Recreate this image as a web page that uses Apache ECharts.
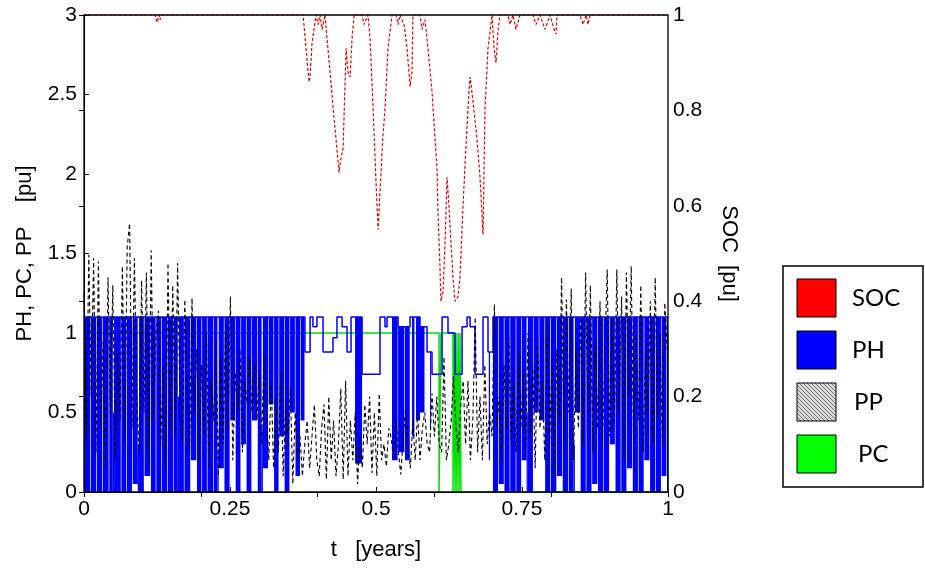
<!DOCTYPE html>
<html>
<head>
<meta charset="utf-8">
<script src="https://cdn.jsdelivr.net/npm/echarts@6/dist/echarts.min.js"></script>
<style>
  html, body { margin: 0; padding: 0; background: #fff; }
  #chart { width: 925px; height: 570px; }
</style>
</head>
<body>
<div id="chart"></div>
<script>
// time is in days of the year, axis labels show years
const DAYS = 365;

// PH envelope of the fast on/off switching: [startDay, endDay, low, high]
const phBands = [
  [0.6, 3.8, 0, 1.1], [4.2, 7.6, 0, 1.1], [8, 11.4, 0, 1.1], [11.8, 15.4, 0, 1.1],
  [15.8, 18, 0, 1.1], [18, 18.8, 0, 0.5], [18.8, 23, 0, 1.1], [23.4, 26.4, 0, 1.1],
  [26.8, 30, 0, 1.1], [30.4, 33.6, 0.05, 1.1], [33.6, 34.4, 0, 0.3], [34.4, 37.4, 0, 1.1],
  [37.8, 41.4, 0.1, 1.1], [41.8, 44.8, 0, 1.1], [45.2, 48.2, 0, 1.1], [48.6, 52, 0, 1.1],
  [52.4, 55.6, 0, 1.1], [56, 58.6, 0, 1.1], [58.6, 59.4, 0, 0.6], [59.4, 62.4, 0, 1.1],
  [62.8, 66.4, 0, 1.1], [66.8, 70.2, 0.2, 1.1], [70.6, 73.4, 0, 1.1], [73.8, 76.8, 0, 1.1],
  [77.2, 80.8, 0, 1.1], [81.2, 83.4, 0, 1.1], [83.4, 84.2, 0, 0.25], [84.2, 87.4, 0.15, 1.1],
  [87.8, 91, 0, 1.1], [91.4, 94.4, 0.45, 1.1], [94.8, 97.8, 0, 1.1], [98.2, 101.2, 0.3, 1.1],
  [101.6, 104.6, 0, 1.1], [105, 108.2, 0.45, 1.1], [108.6, 111, 0, 1.1], [111, 111.8, 0, 0.4],
  [111.8, 115, 0.15, 1.1], [115.4, 118.4, 0.55, 1.1], [118.8, 121.6, 0, 1.1], [122, 125, 0.35, 1.1],
  [125.4, 128.4, 0, 1.1], [128.8, 131.8, 0.5, 1.1], [132.2, 135, 0.1, 1.1], [135.4, 137.8, 0.45, 1.1],
  [169.4, 173.8, 0.18, 1.1], [192.5, 196, 0.2, 1.1], [196.3, 200.2, 0.25, 1.04], [200.6, 203.6, 0.2, 1.04],
  [205, 206.5, 0.35, 1.1], [207.5, 210, 0.45, 1.1], [210, 212.8, 0.5, 1.04], [216.3, 216.9, 0.4, 0.88],
  [253, 253.8, 0.2, 0.88],
  [255.6, 258.8, 0, 1.1], [259.2, 262.4, 0.05, 1.1], [262.8, 266, 0, 1.1], [266.4, 269.8, 0, 1.1],
  [270.2, 273.2, 0, 1.1], [273.6, 276.6, 0.2, 1.1], [276.6, 277.4, 0, 0.5], [277.4, 280.6, 0, 1.1],
  [281, 284.2, 0.5, 1.1], [284.6, 287.8, 0.45, 1.1], [288.2, 291.4, 0, 1.1], [291.8, 295.2, 0, 1.1],
  [295.6, 298.8, 0.1, 1.1], [299.2, 302.6, 0, 1.1], [303, 306, 0, 1.1], [306, 306.8, 0, 0.3],
  [306.8, 310, 0.5, 1.1], [310.4, 313.6, 0, 1.1], [314, 317.2, 0, 1.1], [317.6, 320.8, 0.05, 1.1],
  [321.2, 324.6, 0, 1.1], [325, 328.2, 0, 1.1], [328.6, 331.8, 0.3, 1.1], [332.2, 335.4, 0, 1.1],
  [335.8, 339, 0, 1.1], [339.4, 342.6, 0.15, 1.1], [343, 346.2, 0, 1.1], [346.6, 349.8, 0, 1.1],
  [350.2, 353.4, 0.2, 1.1], [353.8, 357, 0, 1.1], [357.4, 360.6, 0, 1.1], [361, 364, 0.1, 1.1],
  [364.4, 365, 0, 1.1]
];

// PH slow level (step line)
const phStepDay = [0, 138.1, 141.3, 143.1, 145.6, 149.4, 155.6, 158.1, 161.3, 164.4, 166.9, 173.8,
  185, 188.1, 189.4, 196.3, 203.8, 210, 214.4, 217.5, 223.8, 227.5, 231.9, 236.3, 239.4,
  241.3, 244.4, 249.4, 252.5, 255.6, 365];
const phStepVal = [1.1, 0.88, 1.1, 1.04, 1.1, 0.88, 0.97, 1.1, 1.04, 0.88, 1.1, 0.74,
  1.1, 1.04, 1.1, 1.04, 1.1, 1.04, 0.88, 0.74, 1.1, 1.0, 0.74, 1.04, 1.1,
  1.04, 0.74, 1.1, 0.88, 1.1, 1.1];

// PP sampled every 1.5 days
const ppStepDays = 1.5;
const ppVals = [
  1.25, 0.35, 1.49, 0.6, 1.47, 0.25, 1.45, 0.4, 0.95, 0.15,
  1.35, 0.5, 1.3, 0.2, 0.9, 0.45, 1.42, 0.3, 1.54, 1.69,
  0.4, 1.47, 0.6, 0.25, 1.33, 0.5, 1.38, 0.2, 1.52, 0.45,
  1.0, 1.14, 0.3, 0.8, 0.15, 1.44, 0.4, 1.3, 0.35, 1.44,
  0.5, 0.3, 1.21, 0.6, 0.25, 1.22, 0.5, 0.9, 0.2, 0.8,
  0.35, 1.0, 0.15, 0.7, 0.45, 0.95, 0.1, 0.85, 0.3, 1.05,
  0.4, 1.23, 0.2, 0.75, 0.5, 0.9, 0.25, 0.7, 0.55, 0.85,
  0.5, 0.8, 0.45, 0.75, 0.3, 0.85, 0.5, 0.2, 0.7, 0.15,
  0.6, 0.25, 0.75, 0.1, 0.55, 0.3, 0.65, 0.05, 0.5, 0.2,
  0.35, 0.1, 0.3, 0.45, 0.15, 0.35, 0.55, 0.2, 0.1, 0.4,
  0.55, 0.08, 0.6, 0.2, 0.45, 0.1, 0.3, 0.65, 0.08, 0.7,
  0.1, 0.45, 0.2, 0.5, 0.05, 0.35, 0.15, 0.55, 0.3, 0.6,
  0.12, 0.5, 0.1, 0.62, 0.2, 0.3, 0.16, 0.4, 0.34, 0.2,
  0.45, 0.25, 0.11, 0.35, 0.52, 0.3, 0.15, 0.45, 0.2, 0.5,
  0.2, 0.4, 0.5, 0.3, 0.25, 0.62, 0.35, 0.6, 0.3, 0.25,
  0.85, 0.2, 0.3, 0.45, 0.73, 0.4, 0.25, 0.55, 0.7, 0.3,
  0.7, 0.2, 0.45, 1.1, 0.25, 0.6, 0.2, 0.8, 0.3, 0.5,
  0.35, 1.18, 0.4, 0.6, 0.2, 0.8, 0.4, 0.97, 0.3, 0.7,
  0.25, 0.9, 0.4, 0.75, 0.2, 1.0, 0.35, 0.8, 0.15, 0.95,
  0.4, 0.7, 0.2, 1.05, 0.3, 0.85, 0.1, 0.9, 0.45, 1.35,
  0.3, 1.21, 0.5, 1.28, 0.2, 0.9, 0.4, 1.1, 0.3, 1.38,
  0.5, 1.3, 0.25, 0.95, 0.4, 1.2, 0.3, 0.85, 1.4, 0.35,
  1.1, 0.4, 1.4, 0.5, 1.23, 0.2, 1.38, 0.6, 1.42, 0.3,
  1.0, 0.45, 1.3, 0.25, 0.9, 0.5, 1.2, 0.3, 1.35, 0.45,
  1.0, 0.3, 1.19, 0.9
];

// PC (step line)
const pcDay = [0, 221.9, 223.1, 230.6, 231.2, 231.9, 232.5, 233.1, 233.8, 234.4, 235, 235.6, 365];
const pcVal = [1, 0, 1, 0, 1, 0, 1, 0, 1, 0, 1, 0, 1];

// SOC, right axis
const socDay = [0, 44.4, 45.6, 46.9, 47.5, 48.8, 136.9, 138.8, 140.6, 141.3, 142.5, 145, 146.3,
  147.5, 148.8, 150.6, 151.9, 153.8, 155.6, 157.5, 159.4, 160.6, 161.9, 163.1, 163.8, 165,
  166.3, 167.5, 168.8, 173.8, 175, 177.5, 178.8, 180.6, 182.5, 183.8, 185, 186.9, 188.1, 190,
  192.5, 195, 196.3, 197.5, 200, 201.9, 203.8, 205, 205.6, 210, 211.3, 213.1, 215, 217.5,
  219.4, 220.6, 221.3, 222.5, 223.1, 224.4, 225.6, 226.9, 228.1, 229.4, 230.6, 231.9, 233.8,
  235, 236.9, 238.8, 240.6, 241.3, 243.1, 245.6, 247.5, 249.4, 250.6, 252.5, 255, 256.3,
  257.5, 258.8, 260, 265, 266.3, 268.1, 270, 272.5, 280.6, 282.5, 285, 288.1, 291.3, 293.8,
  295, 295.6, 310, 311.9, 313.8, 315, 316.3, 365];
const socVal = [1, 1, 0.985, 1, 0.99, 1, 1, 0.93, 0.86, 0.87, 0.94, 1, 0.98,
  1, 0.97, 1, 0.95, 0.88, 0.81, 0.74, 0.67, 0.7, 0.72, 0.85, 0.93, 0.88,
  0.87, 0.95, 1, 1, 0.98, 1, 0.95, 0.81, 0.65, 0.55, 0.63, 0.75, 0.8, 0.93,
  1, 1, 0.98, 1, 0.98, 0.93, 0.85, 0.88, 1, 1, 0.97, 0.99, 0.93, 0.84,
  0.74, 0.68, 0.58, 0.47, 0.4, 0.42, 0.52, 0.66, 0.6, 0.52, 0.45, 0.4, 0.41,
  0.45, 0.6, 0.73, 0.84, 0.87, 0.82, 0.74, 0.66, 0.54, 0.8, 0.93, 1, 0.93,
  0.9, 0.97, 1, 1, 0.98, 1, 0.97, 1, 1, 0.98, 1, 0.97, 1, 0.97,
  0.96, 1, 1, 0.98, 1, 0.98, 1, 1];

const legendNames = ['SOC', 'PH', 'PP', 'PC'];

const FONT = 'Liberation Sans, Arial, sans-serif';
const zip = (xs, ys) => xs.map((x, i) => [x, ys[i]]);

function hatchPattern() {
  const c = document.createElement('canvas');
  c.width = 4;
  c.height = 4;
  const ctx = c.getContext('2d');
  ctx.fillStyle = '#d8d8d8';
  ctx.fillRect(0, 0, 4, 4);
  ctx.strokeStyle = '#777';
  ctx.lineWidth = 1;
  ctx.beginPath();
  ctx.moveTo(-1, -1);
  ctx.lineTo(5, 5);
  ctx.stroke();
  return { image: c, repeat: 'repeat' };
}

function legendGraphic() {
  const fills = ['#ff0000', '#0000ff', hatchPattern(), '#00ff00'];
  const textX = [852, 852, 854, 858];
  const children = [{
    type: 'rect',
    shape: { x: 783, y: 266, width: 140, height: 221 },
    style: { fill: '#fff', stroke: '#000', lineWidth: 1.5 }
  }];
  legendNames.forEach((name, i) => {
    const y = 279 + i * 52;
    children.push({
      type: 'rect',
      shape: { x: 797, y: y, width: 39, height: 38 },
      style: { fill: fills[i], stroke: '#000', lineWidth: 1 }
    });
    children.push({
      type: 'text',
      x: textX[i],
      y: y + 19,
      style: { text: name, fill: '#000', font: '24px Lato, "Open Sans", sans-serif', verticalAlign: 'middle' }
    });
  });
  return { type: 'group', children: children };
}

// plot box drawn above the series, like the axes box in the original
function frameGraphic() {
  return {
    type: 'rect', z: 100, silent: true,
    shape: { x: 84, y: 15, width: 584, height: 477 },
    style: { fill: null, stroke: '#000', lineWidth: 1.3 }
  };
}

const chart = echarts.init(document.getElementById('chart'));

const tickStyle = { inside: true, length: 5, lineStyle: { color: '#000' } };
const lineAxis = { show: true, lineStyle: { color: '#000', width: 1 } };
const labelStyle = { color: '#000', fontSize: 21, fontFamily: FONT };
const nameStyle = { color: '#000', fontSize: 22, fontFamily: FONT };

chart.setOption({
  animation: false,
  backgroundColor: '#fff',
  grid: { left: 84, right: 257, top: 15, bottom: 78 },
  xAxis: [{
    type: 'value', min: 0, max: DAYS, interval: DAYS / 4, position: 'bottom',
    axisLine: lineAxis, axisTick: tickStyle, splitLine: { show: false },
    axisLabel: Object.assign({ margin: 7, formatter: v => String(+(v / DAYS).toFixed(2)) }, labelStyle),
    name: 't   [years]', nameLocation: 'middle', nameGap: 47, nameTextStyle: nameStyle
  }, {
    type: 'value', min: 0, max: DAYS, interval: DAYS / 5, position: 'top',
    axisLine: lineAxis, axisTick: tickStyle, splitLine: { show: false }, axisLabel: { show: false }
  }],
  yAxis: [{
    type: 'value', min: 0, max: 3, interval: 0.5, position: 'left',
    axisLine: lineAxis, axisTick: tickStyle, splitLine: { show: false },
    axisLabel: Object.assign({ margin: 7 }, labelStyle),
    name: 'PH, PC, PP    [pu]', nameLocation: 'middle', nameRotate: 90, nameGap: 48, nameTextStyle: nameStyle
  }, {
    type: 'value', min: 0, max: 1, interval: 0.2, position: 'right',
    axisLine: lineAxis, axisTick: tickStyle, splitLine: { show: false },
    axisLabel: Object.assign({ margin: 5 }, labelStyle),
    name: 'SOC  [pu]', nameLocation: 'middle', nameRotate: -90, nameGap: 50, nameTextStyle: nameStyle
  }],
  graphic: [legendGraphic(), frameGraphic()],
  series: [{
    name: 'PC', type: 'line', step: 'end', symbol: 'none', z: 1,
    data: zip(pcDay, pcVal),
    lineStyle: { color: '#00e000', width: 1.5 }
  }, {
    name: 'PH', type: 'custom', z: 2,
    data: phBands,
    encode: { x: [0, 1], y: [2, 3] },
    renderItem: (params, api) => {
      const p0 = api.coord([api.value(0), api.value(3)]);
      const p1 = api.coord([api.value(1), api.value(2)]);
      return {
        type: 'rect',
        shape: { x: p0[0], y: p0[1], width: Math.max(p1[0] - p0[0], 1), height: p1[1] - p0[1] },
        style: { fill: '#0000ff' }
      };
    }
  }, {
    name: 'PH', type: 'line', step: 'end', symbol: 'none', z: 3,
    data: zip(phStepDay, phStepVal),
    lineStyle: { color: '#0000ff', width: 1.5 }
  }, {
    name: 'PP', type: 'line', symbol: 'none', z: 4,
    data: ppVals.map((v, i) => [i * ppStepDays, v]),
    lineStyle: { color: '#000', width: 1.1, type: [4, 3] }
  }, {
    name: 'SOC', type: 'line', symbol: 'none', z: 5, yAxisIndex: 1,
    data: zip(socDay, socVal),
    lineStyle: { color: '#e00000', width: 1.2, type: [3, 2] }
  }]
});
</script>
</body>
</html>
